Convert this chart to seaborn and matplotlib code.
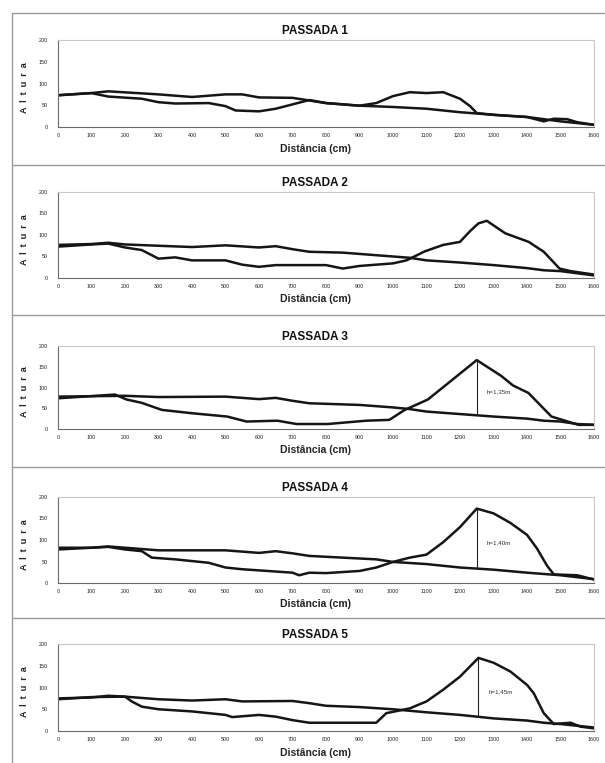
import numpy as np
import pandas as pd
import seaborn as sns
import matplotlib.pyplot as plt
from matplotlib.lines import Line2D
from matplotlib.ticker import MultipleLocator

# === Data ===
titles = ["PASSADA 1", "PASSADA 2", "PASSADA 3", "PASSADA 4", "PASSADA 5"]
h_labels = [None, None, "h=1,35m", "h=1,40m", "h=1,45m"]

# straight-ish reference line (A) and jump trajectory (B) per passada
p1_a_x = [0, 100, 150, 300, 400, 500, 550, 600, 700, 800, 900, 1000, 1100, 1200, 1300, 1400, 1450, 1500, 1600]
p1_a_y = [73, 78, 82, 75, 69, 75, 75, 68, 67, 55, 49, 46, 42, 34, 28, 23, 18, 13, 5]
p1_b_x = [0, 100, 150, 250, 300, 350, 450, 500, 530, 600, 650, 700, 750, 800, 900, 950, 1000, 1050, 1100,
          1150, 1200, 1230, 1250, 1300, 1400, 1450, 1480, 1520, 1550, 1600]
p1_b_y = [73, 78, 70, 65, 57, 54, 55, 48, 38, 36, 42, 52, 62, 55, 49, 55, 71, 80, 78,
          80, 65, 48, 32, 28, 23, 13, 19, 18, 11, 5]

p2_a_x = [0, 100, 150, 200, 300, 400, 500, 600, 650, 700, 750, 850, 950, 1050, 1100, 1200, 1300, 1400, 1450, 1500, 1600]
p2_a_y = [77, 79, 82, 78, 75, 72, 76, 71, 74, 67, 61, 59, 53, 47, 41, 36, 30, 23, 18, 16, 6]
p2_b_x = [0, 100, 150, 200, 250, 300, 350, 400, 500, 550, 600, 650, 800, 850, 900, 1000, 1040, 1095, 1150,
          1200, 1230, 1255, 1280, 1335, 1405, 1450, 1497, 1530, 1600]
p2_b_y = [73, 78, 80, 71, 65, 45, 48, 41, 41, 31, 26, 30, 30, 22, 28, 34, 41, 62, 77,
          84, 109, 127, 133, 104, 84, 61, 22, 16, 8]

p3_a_x = [0, 200, 300, 500, 600, 650, 700, 750, 900, 1000, 1050, 1100, 1200, 1300, 1400, 1450, 1500, 1550, 1600]
p3_a_y = [78, 80, 77, 78, 72, 75, 68, 62, 58, 52, 48, 42, 36, 30, 25, 20, 18, 12, 10]
p3_b_x = [0, 170, 205, 250, 310, 400, 505, 563, 655, 712, 805, 920, 989, 1035, 1104, 1250, 1323, 1358, 1404,
          1473, 1554, 1600]
p3_b_y = [74, 83, 71, 63, 46, 38, 30, 18, 20, 12, 12, 20, 22, 46, 71, 166, 128, 105, 87,
          30, 10, 10]

p4_a_x = [0, 100, 150, 200, 300, 500, 600, 650, 700, 750, 850, 950, 1000, 1100, 1200, 1300, 1400, 1450, 1500, 1600]
p4_a_y = [82, 82, 85, 82, 76, 76, 70, 74, 69, 63, 59, 55, 49, 44, 36, 31, 24, 21, 18, 9]
p4_b_x = [0, 150, 200, 250, 280, 350, 400, 450, 500, 550, 700, 720, 750, 800, 900, 950, 1000, 1050, 1100,
          1150, 1200, 1250, 1300, 1350, 1400, 1430, 1460, 1480, 1550, 1600]
p4_b_y = [78, 84, 78, 74, 59, 55, 51, 47, 36, 32, 24, 18, 24, 23, 28, 36, 49, 59, 66,
          95, 130, 173, 162, 140, 112, 80, 40, 20, 18, 8]

p5_a_x = [0, 100, 200, 300, 400, 500, 550, 700, 750, 800, 900, 1000, 1100, 1200, 1300, 1400, 1450, 1500, 1600]
p5_a_y = [73, 78, 79, 73, 70, 73, 68, 69, 64, 58, 55, 50, 43, 37, 29, 24, 19, 16, 8]
p5_b_x = [0, 100, 150, 200, 220, 250, 300, 400, 500, 520, 600, 650, 700, 750, 900, 950, 980, 1050, 1100,
          1150, 1200, 1255, 1300, 1350, 1400, 1420, 1450, 1480, 1530, 1560, 1600]
p5_b_y = [75, 77, 81, 79, 68, 56, 50, 45, 37, 32, 37, 33, 25, 19, 19, 19, 41, 52, 68,
          95, 125, 168, 157, 137, 106, 87, 41, 16, 19, 10, 6]

series = [
    (p1_a_x, p1_a_y, p1_b_x, p1_b_y),
    (p2_a_x, p2_a_y, p2_b_x, p2_b_y),
    (p3_a_x, p3_a_y, p3_b_x, p3_b_y),
    (p4_a_x, p4_a_y, p4_b_x, p4_b_y),
    (p5_a_x, p5_a_y, p5_b_x, p5_b_y),
]

# === Layout (pixels in a 605x763 canvas) ===
W, H = 605, 763
ax_left, ax_right = 58, 594
ax_rows = [(40, 127), (192, 278), (346, 429), (497, 583), (644, 731)]
separators = [13, 165, 315, 467, 618]

sns.set_style("white")
plt.rcParams["font.family"] = ["Liberation Sans", "DejaVu Sans"]

fig = plt.figure(figsize=(W / 100, H / 100), dpi=100)
fig.patch.set_facecolor("white")

# panel frame lines
for y in separators:
    fig.add_artist(Line2D([12 / W, 1.0], [1 - y / H, 1 - y / H], color="#9a9a9a", lw=1.0))
fig.add_artist(Line2D([12 / W, 12 / W], [0, 1 - separators[0] / H], color="#9a9a9a", lw=1.0))

for i, (top, bottom) in enumerate(ax_rows):
    ax = fig.add_axes([ax_left / W, 1 - bottom / H, (ax_right - ax_left) / W, (bottom - top) / H])
    ax_x, ax_y, b_x, b_y = series[i]
    df = pd.concat([
        pd.DataFrame({"dist": ax_x, "altura": ax_y, "serie": "linha"}),
        pd.DataFrame({"dist": b_x, "altura": b_y, "serie": "trajectoria"}),
    ])
    sns.lineplot(data=df, x="dist", y="altura", hue="serie", palette=["#151515", "#151515"],
                 estimator=None, sort=False, lw=1.8, legend=False, ax=ax)

    if h_labels[i]:
        k = int(np.argmax(b_y))
        px = b_x[k]
        base = np.interp(px, ax_x, ax_y)
        ax.vlines(px, base, b_y[k], color="#222222", lw=0.8)
        ax.text(px + 30, (base + b_y[k]) / 2 - 10, h_labels[i], fontsize=4.5, color="#333333", va="center")

    ax.set_xlim(0, 1600)
    ax.set_ylim(0, 200)
    ax.xaxis.set_major_locator(MultipleLocator(100))
    ax.xaxis.set_minor_locator(MultipleLocator(50))
    ax.yaxis.set_major_locator(MultipleLocator(50))
    ax.tick_params(axis="x", which="major", direction="inout", length=3, width=0.6,
                   labelsize=3.9, pad=3, colors="#555555")
    ax.tick_params(axis="x", which="minor", direction="inout", length=2, width=0.5, colors="#777777")
    ax.tick_params(axis="y", direction="out", length=2.5, width=0.6, labelsize=3.9, pad=5, colors="#555555")
    for lab in ax.get_xticklabels() + ax.get_yticklabels():
        lab.set_color("#222222")
    for side in ["top", "right"]:
        ax.spines[side].set_color("#c8c8c8")
        ax.spines[side].set_linewidth(0.8)
    for side in ["left", "bottom"]:
        ax.spines[side].set_color("#6a6a6a")
        ax.spines[side].set_linewidth(0.8)

    ax.set_title(titles[i], fontsize=8.5, fontweight="bold", pad=4, x=0.48, color="#111111")
    ax.set_xlabel("Distância (cm)", fontsize=7.5, fontweight="bold", color="#222222")
    ax.xaxis.set_label_coords(0.48, -0.19)
    ax.set_ylabel("A  l  t  u  r  a", fontsize=6.5, fontweight="bold", color="#222222")
    ax.yaxis.set_label_coords(-29 / (ax_right - ax_left), 0.45)

fig.savefig("out.png", dpi=100)
